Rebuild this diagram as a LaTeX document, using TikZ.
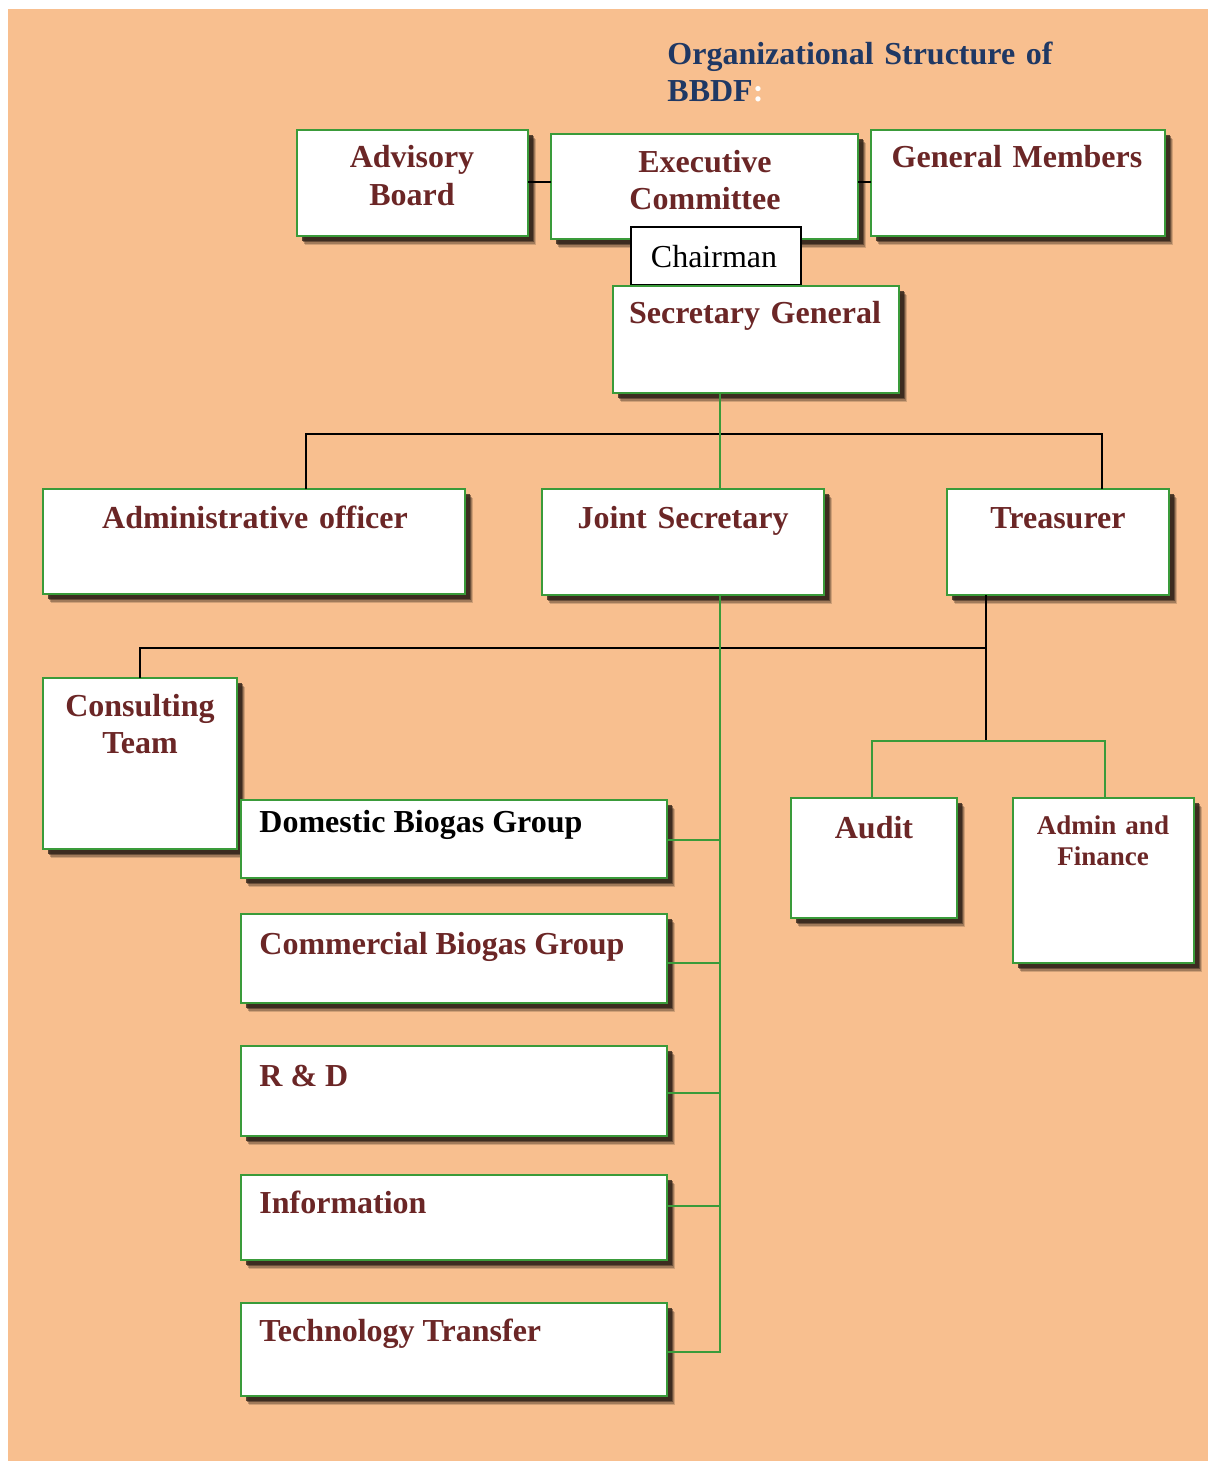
\documentclass[tikz,border=0pt]{standalone}
\usepackage{fontspec}
\setmainfont{Liberation Serif}
\usetikzlibrary{shadows}
\definecolor{peach}{HTML}{F8BF8F}
\definecolor{boxgreen}{HTML}{3A9B3A}
\definecolor{textred}{HTML}{6B2626}
\definecolor{titleblue}{HTML}{1F3864}
\definecolor{shade}{HTML}{33241A}
\tikzset{
  sz/.style n args={2}{minimum width=#1*0.5pt, minimum height=#2*0.5pt},
  orgbox/.style={draw=boxgreen, line width=1.4pt, fill=white, anchor=north west,
    inner sep=0pt, outer sep=0pt,
    general shadow={shadow xshift=4.2pt, shadow yshift=-4.4pt, fill=shade, opacity=0.2},
    general shadow={shadow xshift=3.6pt, shadow yshift=-3.8pt, fill=shade, opacity=0.3},
    general shadow={shadow xshift=3.0pt, shadow yshift=-3.2pt, fill=shade, opacity=0.5},
    general shadow={shadow xshift=2.4pt, shadow yshift=-2.6pt, fill=shade, opacity=0.8}},
  chairbox/.style={draw=black, line width=0.9pt, fill=white, anchor=north west,
    inner sep=0pt, outer sep=0pt},
  lbl/.style={font=\bfseries\fontsize{16}{18.5}\selectfont, text=textred, inner sep=0pt},
  ctr/.style={lbl, text width=200pt, align=center, anchor=base},
  lft/.style={lbl, anchor=base west},
  blk/.style={draw=black, line width=1pt},
  grn/.style={draw=boxgreen, line width=1.2pt},
}
\begin{document}
\begin{tikzpicture}[x=0.5pt, y=-0.5pt]
\useasboundingbox (0,0) rectangle (1208,1461);
\fill[white] (0,0) rectangle (1208,1461);
\fill[peach] (8,9) rectangle (1208,1461);

% title
\node[lbl, text=titleblue, text width=250pt, align=left, anchor=base west] (title) at (667,65)
  {Organizational Structure of\\BBDF\textcolor{white}{:}};

% top row
\node[orgbox, sz={231}{106}] (adv) at (297,130) {};
\node[orgbox, sz={307}{105}] (exe) at (551,134) {};
\node[orgbox, sz={294}{106}] (gen) at (871,130) {};
\node[chairbox, sz={170}{58}] (chair) at (631,227) {};
\node[orgbox, sz={286}{107}] (sec) at (613,286) {};

\node[ctr] (advT) at (412,168) {Advisory\\Board};
\node[ctr] (exeT) at (705,172) {Executive\\Committee};
\node[ctr] (genT) at (1017,168) {General Members};
\node[lbl, font=\fontsize{16}{18.5}\selectfont, text=black, anchor=base] (chairT) at (714,267) {Chairman};
\node[ctr] (secT) at (755,323) {Secretary General};

% second row
\node[orgbox, sz={422}{105}] (admin) at (43,489) {};
\node[orgbox, sz={282}{106}] (joint) at (542,489) {};
\node[orgbox, sz={222}{106}] (treas) at (947,489) {};
\node[ctr] (adminT) at (255,528) {Administrative officer};
\node[ctr] (jointT) at (683,528) {Joint Secretary};
\node[ctr] (treasT) at (1058,528) {Treasurer};

% consulting team and working groups
\node[orgbox, sz={194}{171}] (cons) at (43,678) {};
\node[ctr] (consT) at (140,716) {Consulting\\Team};
\node[orgbox, sz={426}{78}] (dom) at (241,800) {};
\node[orgbox, sz={426}{89}] (com) at (241,914) {};
\node[orgbox, sz={426}{90}] (rnd) at (241,1046) {};
\node[orgbox, sz={426}{85}] (info) at (241,1175) {};
\node[orgbox, sz={426}{93}] (tech) at (241,1303) {};
\node[lft, text=black] (domT) at (259,832) {Domestic Biogas Group};
\node[lft] (comT) at (259,954) {Commercial Biogas Group};
\node[lft] (rndT) at (259,1086) {R \& D};
\node[lft] (infoT) at (259,1213) {Information};
\node[lft] (techT) at (259,1341) {Technology Transfer};

% treasurer's units
\node[orgbox, sz={166}{120}] (audit) at (791,798) {};
\node[orgbox, sz={181}{165}] (fin) at (1013,798) {};
\node[ctr] (auditT) at (874,838) {Audit};
\node[ctr, font=\bfseries\fontsize{13.5}{15.5}\selectfont] (finT) at (1103,834) {Admin and\\Finance};

% junction points
\coordinate (b1) at (306,434);
\coordinate (b2) at (1102,434);
\coordinate (sp) at (720,434);
\coordinate (spEnd) at (720,1352);
\coordinate (t1) at (986,648);
\coordinate (t2) at (140,648);
\coordinate (t3) at (986,741);
\coordinate (a1) at (872,741);
\coordinate (a2) at (1105,741);
\coordinate (jDom) at (720,840);
\coordinate (jCom) at (720,963);
\coordinate (jRnd) at (720,1093);
\coordinate (jInfo) at (720,1206);
\coordinate (jTop) at (720,182);

% black connectors
\draw[blk] (adv.east |- jTop) -- (exe.west |- jTop);
\draw[blk] (exe.east |- jTop) -- (gen.west |- jTop);
\draw[blk] (admin.north -| b1) -- (b1) -- (b2) -- (treas.north -| b2);
\draw[blk] (treas.south -| t1) -- (t3);
\draw[blk] (t1) -- (t2) -- (cons.north -| t2);

% green connectors
\draw[grn] (sec.south -| sp) -- (joint.north -| sp);
\draw[grn] (joint.south -| spEnd) -- (spEnd) -- (tech.east |- spEnd);
\draw[grn] (jDom) -- (jDom -| dom.east);
\draw[grn] (jCom) -- (jCom -| com.east);
\draw[grn] (jRnd) -- (jRnd -| rnd.east);
\draw[grn] (jInfo) -- (jInfo -| info.east);
\draw[grn] (audit.north -| a1) -- (a1) -- (a2) -- (fin.north -| a2);
\end{tikzpicture}
\end{document}
